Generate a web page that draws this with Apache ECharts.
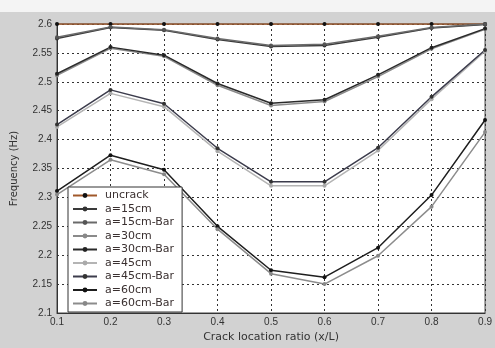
<!DOCTYPE html>
<html><head><meta charset="utf-8">
<script src="https://cdn.jsdelivr.net/npm/echarts@6/dist/echarts.min.js"></script>
<style>html,body{margin:0;padding:0;background:#d2d2d2}#c{width:495px;height:348px}</style>
</head><body><div id="c"></div>
<script>
var categories = ['0.1','0.2','0.3','0.4','0.5','0.6','0.7','0.8','0.9'];
var uncrack  = [2.600, 2.600, 2.600, 2.600, 2.600, 2.600, 2.600, 2.600, 2.600];
var a15      = [2.575, 2.594, 2.589, 2.573, 2.561, 2.563, 2.577, 2.593, 2.599];
var a15Bar   = [2.577, 2.595, 2.590, 2.575, 2.563, 2.565, 2.579, 2.594, 2.600];
var a30      = [2.511, 2.558, 2.544, 2.494, 2.459, 2.466, 2.509, 2.557, 2.591];
var a30Bar   = [2.514, 2.560, 2.546, 2.497, 2.463, 2.469, 2.512, 2.559, 2.592];
var a45      = [2.422, 2.480, 2.457, 2.380, 2.320, 2.320, 2.381, 2.470, 2.553];
var a45Bar   = [2.426, 2.486, 2.462, 2.385, 2.327, 2.327, 2.386, 2.474, 2.555];
var a60      = [2.311, 2.373, 2.348, 2.250, 2.174, 2.162, 2.213, 2.304, 2.434];
var a60Bar   = [2.305, 2.365, 2.340, 2.245, 2.168, 2.150, 2.199, 2.284, 2.413];
var seriesNames = ['uncrack','a=15cm','a=15cm-Bar','a=30cm','a=30cm-Bar','a=45cm','a=45cm-Bar','a=60cm','a=60cm-Bar'];
var seriesData = [uncrack,a15,a15Bar,a30,a30Bar,a45,a45Bar,a60,a60Bar];
var lineColors = ['#a0582a','#3a3a3a','#6a6a6a','#8a8a8a','#2a2a2a','#b4b4b4','#3c3c4c','#1e1e1e','#8c8c8c'];
var markColors = ['#111','#333','#555','#888','#222','#aaa','#333','#111','#888'];

var chart = echarts.init(document.getElementById('c'));
var series = seriesNames.map(function(n,i){
  return {
    name:n, type:'line', data:seriesData[i],
    symbol:'circle', symbolSize:4,
    lineStyle:{color:lineColors[i], width:1.5},
    itemStyle:{color:markColors[i]},
    z: i===0 ? 1 : 2
  };
});
chart.setOption({
  backgroundColor:'#d2d2d2',
  animation:false,
  graphic:[{type:'rect', left:0, top:0, shape:{width:495,height:12}, style:{fill:'#f4f4f4'}, silent:true}],
  grid:{left:57, right:9, top:24, bottom:32, show:true, backgroundColor:'#fff', borderColor:'#444', borderWidth:1},
  legend:{
    orient:'vertical', left:68, top:187,
    data:seriesNames,
    itemWidth:24, itemHeight:6, itemGap:2.5,
    backgroundColor:'#fff', borderColor:'#333', borderWidth:1,
    padding:[3,8,3,4],
    textStyle:{fontFamily:'DejaVu Sans', fontSize:11, color:'#3a3030', lineHeight:11, padding:[0,0,0,3]}
  },
  xAxis:{
    type:'category', data:categories, boundaryGap:false,
    name:'Crack location ratio (x/L)', nameLocation:'middle', nameGap:19,
    nameTextStyle:{fontFamily:'DejaVu Sans', fontSize:11, color:'#333'},
    axisLine:{lineStyle:{color:'#333'}},
    axisTick:{show:false},
    axisLabel:{fontFamily:'Liberation Sans, Arial', fontSize:10, color:'#333', margin:4},
    splitLine:{show:true, lineStyle:{color:'#333', type:[2,3], width:1}}
  },
  yAxis:{
    type:'value', min:2.1, max:2.6, interval:0.05,
    name:'Frequency (Hz)', nameLocation:'middle', nameGap:38, nameRotate:90,
    nameTextStyle:{fontFamily:'DejaVu Sans', fontSize:10, color:'#333'},
    axisLine:{show:true, lineStyle:{color:'#333'}},
    axisTick:{show:false},
    axisLabel:{fontFamily:'Liberation Sans, Arial', fontSize:10, color:'#333', margin:5,
      formatter:function(v){return String(parseFloat(v.toFixed(2)));}},
    splitLine:{show:true, lineStyle:{color:'#333', type:[2,3], width:1}}
  },
  series:series
});
</script></body></html>
